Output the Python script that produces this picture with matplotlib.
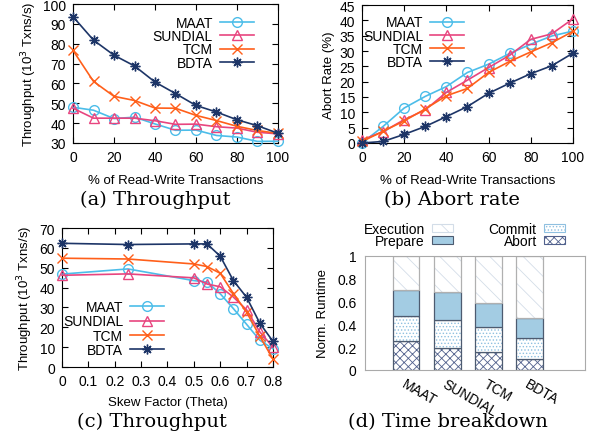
import matplotlib
matplotlib.use('Agg')
import matplotlib.pyplot as plt

plt.rcParams['font.family'] = 'Liberation Sans'
plt.rcParams['hatch.linewidth'] = 0.6

# data
rw_pct = [0, 10, 20, 30, 40, 50, 60, 70, 80, 90, 100]
tput_rw = {
    'MAAT':    [48, 46.5, 42.3, 43, 39.6, 36.4, 36.5, 33.8, 33, 30.8, 30.9],
    'SUNDIAL': [47.5, 42.5, 42.5, 42.5, 41.2, 39.4, 39.5, 38.2, 37.5, 35.4, 34.6],
    'TCM':     [76.6, 61, 53.5, 51.4, 47.6, 47.5, 43.9, 41.3, 38.4, 36.3, 34.8],
    'BDTA':    [93.6, 81.8, 74.2, 68.8, 60.7, 54.9, 48.9, 45.6, 41.7, 38.7, 34.9],
}
abort_rw = {
    'MAAT':    [0, 5.4, 11.4, 15.2, 18.4, 23, 25.7, 29.2, 32.2, 34.9, 36.5],
    'SUNDIAL': [1, 3.7, 7.6, 10.8, 16.5, 20.5, 24.6, 28.6, 33.8, 35.6, 40.5],
    'TCM':     [0.5, 3.8, 7.2, 11.1, 15.4, 17.8, 23, 26.6, 29.7, 32.7, 36.4],
    'BDTA':    [0, 0.5, 2.8, 5.4, 8.6, 11.9, 16.2, 19.5, 22.6, 25.2, 29.3],
}
theta = [0, 0.25, 0.5, 0.55, 0.6, 0.65, 0.7, 0.75, 0.8]
tput_skew = {
    'MAAT':    [46.8, 49.4, 43.5, 42.8, 36.9, 29.4, 21.5, 13.5, 9.2],
    'SUNDIAL': [46.2, 46.9, 44.9, 41.8, 40.4, 35.2, 28.8, 17.7, 10],
    'TCM':     [54.8, 54.4, 51.9, 50.6, 47.2, 37, 27.6, 15.5, 4],
    'BDTA':    [62.3, 61.7, 62, 62, 55.8, 43.5, 35.1, 22.1, 12.9],
}
protocols = ['MAAT', 'SUNDIAL', 'TCM', 'BDTA']
abort_t = [0.25, 0.195, 0.16, 0.10]
commit_t = [0.22, 0.245, 0.215, 0.18]
prepare_t = [0.23, 0.24, 0.215, 0.18]
exec_t = [0.30, 0.32, 0.41, 0.54]

colors = {'MAAT': '#4cbde9', 'SUNDIAL': '#e8457f', 'TCM': '#ff5f1a', 'BDTA': '#1d3567'}
markers = {'MAAT': 'o', 'SUNDIAL': '^', 'TCM': 'x', 'BDTA': (8, 2, 0)}

fig = plt.figure(figsize=(6.01, 4.39), dpi=100)
ax_a = fig.add_axes([0.1215, 0.672, 0.341, 0.3166])
ax_b = fig.add_axes([0.6023, 0.672, 0.351, 0.3143])
ax_c = fig.add_axes([0.1032, 0.1617, 0.351, 0.3166])
ax_d = fig.add_axes([0.6073, 0.1549, 0.366, 0.2597])

leg_kw = dict(frameon=False, markerfirst=False, fontsize=10, handlelength=2.45,
              borderpad=0.2, handletextpad=0.5)


def draw_lines(ax, x, data):
    for name in protocols:
        ax.plot(x, data[name], color=colors[name], marker=markers[name], ms=7,
                mfc='none', mew=1.0, lw=1.2, label=name, clip_on=False, zorder=3)
    ax.tick_params(direction='in', top=True, right=True, labelsize=10, length=4, pad=5)


# (a) throughput vs read-write
draw_lines(ax_a, rw_pct, tput_rw)
ax_a.set_xlim(0, 100)
ax_a.set_ylim(30, 100)
ax_a.set_xticks(range(0, 101, 20))
ax_a.set_yticks(range(30, 101, 10))
ax_a.set_xlabel('% of Read-Write Transactions', fontsize=9.5, labelpad=7)
ax_a.set_ylabel('Throughput (10$^3$ Txns/s)', fontsize=9.5, labelpad=3)
ax_a.legend(loc='upper right', bbox_to_anchor=(0.93, 0.985), labelspacing=-0.05, **leg_kw)

# (b) abort rate
draw_lines(ax_b, rw_pct, abort_rw)
ax_b.set_xlim(0, 100)
ax_b.set_ylim(0, 45)
ax_b.set_xticks(range(0, 101, 20))
ax_b.set_yticks(range(0, 46, 5))
ax_b.set_xlabel('% of Read-Write Transactions', fontsize=9.5, labelpad=7)
ax_b.set_ylabel('Abort Rate (%)', fontsize=9.5, labelpad=3)
ax_b.legend(loc='upper right', bbox_to_anchor=(0.53, 0.995), labelspacing=-0.05, **leg_kw)

# (c) throughput vs skew
draw_lines(ax_c, theta, tput_skew)
ax_c.set_xlim(0, 0.8)
ax_c.set_ylim(0, 70)
ax_c.set_xticks([i / 10 for i in range(9)])
ax_c.set_xticklabels(['0', '0.1', '0.2', '0.3', '0.4', '0.5', '0.6', '0.7', '0.8'])
ax_c.set_yticks(range(0, 71, 10))
ax_c.set_xlabel('Skew Factor (Theta)', fontsize=9.5, labelpad=6)
ax_c.set_ylabel('Throughput (10$^3$ Txns/s)', fontsize=9.5, labelpad=3)
ax_c.legend(loc='lower right', bbox_to_anchor=(0.53, 0.0), labelspacing=0.03, **leg_kw)

# (d) time breakdown, stacked bars
pos = list(range(len(protocols)))
w = 0.65
parts = [
    ('Abort', abort_t, 'white', 'xxxx', '#50608c'),
    ('Commit', commit_t, 'white', '.....', '#8fc0e0'),
    ('Prepare', prepare_t, '#a3cce3', None, None),
    ('Execution', exec_t, 'white', '\\\\', '#d3dde8'),
]
bottom = [0] * len(protocols)
handles = {}
for name, vals, face, hatch, hcol in parts:
    if hatch:
        ax_d.bar(pos, vals, w, bottom=bottom, color=face, hatch=hatch, edgecolor=hcol, lw=0)
    else:
        ax_d.bar(pos, vals, w, bottom=bottom, color=face, lw=0)
    ec = '#b0b0b0' if name == 'Execution' else '#4d5b70'
    ax_d.bar(pos, vals, w, bottom=bottom, fill=False, edgecolor=ec, lw=0.9)
    handles[name] = plt.Rectangle((0, 0), 1, 1, facecolor=face, hatch=hatch,
                                  edgecolor=hcol if hatch else '#4d5b70', lw=0.8)
    bottom = [b + v for b, v in zip(bottom, vals)]

ax_d.set_xlim(-1, 4.35)
ax_d.set_ylim(0, 1)
ax_d.set_yticks([0, 0.2, 0.4, 0.6, 0.8, 1])
ax_d.set_yticklabels(['0', '0.2', '0.4', '0.6', '0.8', '1'])
ax_d.set_xticks(pos)
ax_d.set_xticklabels(protocols, rotation=-30, ha='left', va='top', rotation_mode='anchor', fontsize=10)
ax_d.tick_params(axis='x', length=0, pad=5)
ax_d.tick_params(axis='y', direction='in', labelsize=10, length=0, pad=6, colors='black')
for sp in ax_d.spines.values():
    sp.set_color('#aaaaaa')
ax_d.set_ylabel('Norm. Runtime', fontsize=9.5, labelpad=6)
order = ['Execution', 'Prepare', 'Commit', 'Abort']
ax_d.legend([handles[k] for k in order], order, ncol=2, loc='lower right',
            bbox_to_anchor=(0.945, 0.995), frameon=False, markerfirst=False, fontsize=10,
            handlelength=1.5, handleheight=0.5, labelspacing=-0.1, borderpad=0.1,
            handletextpad=0.5, columnspacing=2.6)

# captions
cap = dict(fontsize=14, family='DejaVu Serif', ha='center', va='center')
fig.text(155 / 601, 1 - 200 / 439, '(a) Throughput', **cap)
fig.text(452 / 601, 1 - 200 / 439, '(b) Abort rate', **cap)
fig.text(152 / 601, 1 - 422 / 439, '(c) Throughput', **cap)
fig.text(448 / 601, 1 - 422 / 439, '(d) Time breakdown', **cap)

plt.savefig('out.png', dpi=100)
